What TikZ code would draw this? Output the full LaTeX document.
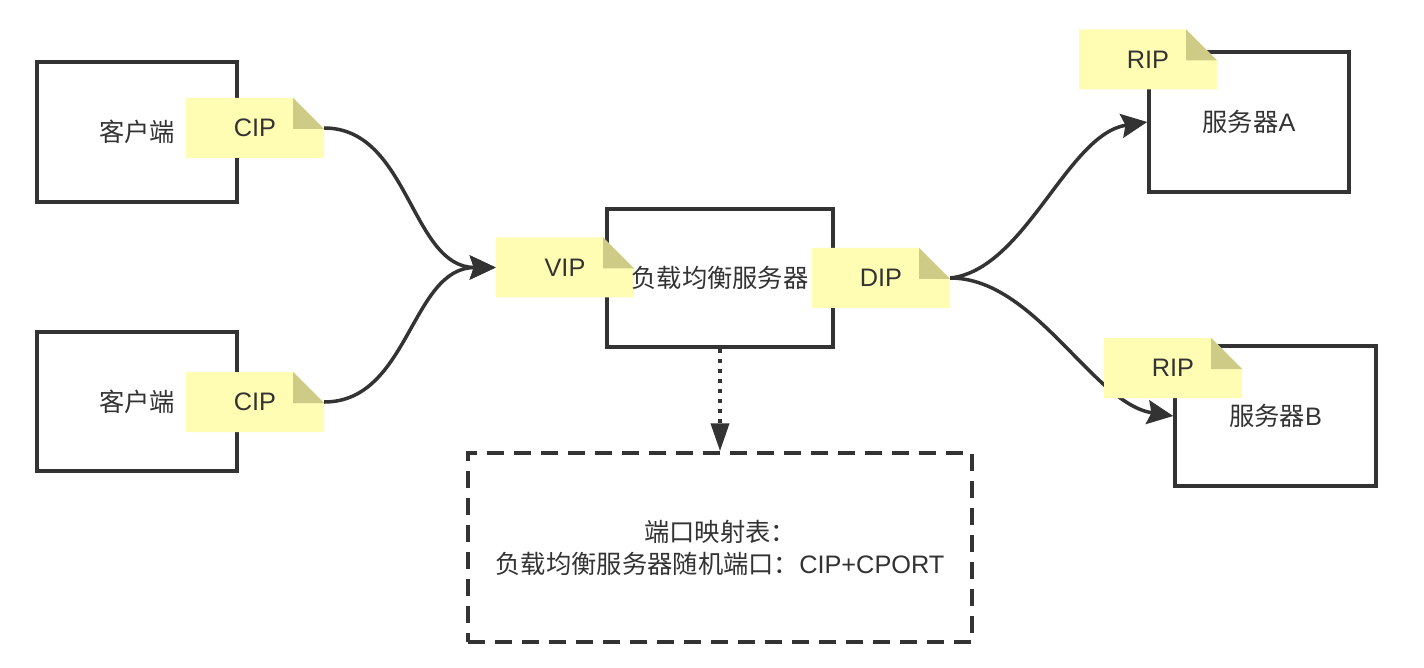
\documentclass[tikz,border=0pt]{standalone}
\usepackage{fontspec}
\setmainfont{Liberation Sans}
\newfontfamily\cjk{Noto Sans CJK SC}
\usetikzlibrary{arrows.meta,calc}
\definecolor{ink}{HTML}{333333}
\definecolor{noteY}{HTML}{FFFDB4}
\definecolor{foldY}{HTML}{CDCB86}
\tikzset{
  txt/.style={text=ink, font=\fontsize{25.3}{32}\selectfont, inner sep=0pt},
  box/.style={draw=ink, line width=3.5pt, fill=white, inner sep=0pt},
  note/.style={txt, minimum width=138pt, minimum height=60pt,
    path picture={
      \fill[noteY] (path picture bounding box.south west) -- (path picture bounding box.north west)
        -- ([xshift=-31pt]path picture bounding box.north east)
        -- ([yshift=-31pt]path picture bounding box.north east)
        -- (path picture bounding box.south east) -- cycle;
      \fill[foldY] ([xshift=-31pt]path picture bounding box.north east)
        -- ([xshift=-31pt,yshift=-31pt]path picture bounding box.north east)
        -- ([yshift=-31pt]path picture bounding box.north east) -- cycle;
    }},
  conn/.style={draw=ink, line width=3.5pt, -{Stealth[length=26pt,width=24pt,inset=4pt]}},
  dotarrow/.style={draw=ink, line width=4pt, dash pattern=on 4pt off 6pt, -{Triangle[length=28pt,width=18pt]}},
  dashbox/.style={draw=ink, line width=3.5pt, dash pattern=on 17pt off 10pt, inner sep=0pt}
}
\begin{document}
\begin{tikzpicture}[x=1pt,y=-1pt]
\useasboundingbox[fill=white] (0,0) rectangle (1424,668);
% boxes
\node[box, txt, minimum width=200pt, minimum height=140pt] (c1) at (137,132) {\cjk 客户端};
\node[box, txt, minimum width=200pt, minimum height=139pt] (c2) at (137,401.5) {\cjk 客户端};
\node[box, minimum width=226pt, minimum height=138pt] (lb) at (720,278) {};
\node[box, txt, minimum width=200pt, minimum height=140pt] (sa) at (1249,122) {{\cjk 服务器}A};
\node[box, txt, minimum width=201pt, minimum height=140pt] (sb) at (1275.5,416) {{\cjk 服务器}B};
\node[dashbox, txt, align=center, minimum width=504pt, minimum height=189pt] (tbl) at (720,547.5)
  {{\cjk 端口映射表：}\\{\cjk 负载均衡服务器随机端口：}CIP+CPORT};
% note anchors
\path (255,128) coordinate (p1) (255,402) coordinate (p2) (565,267.5) coordinate (p3)
  (881,278) coordinate (p4) (1148,59.5) coordinate (p5) (1173,368) coordinate (p6);
\node[note] (cip1) at (p1) {CIP};
\node[note] (cip2) at (p2) {CIP};
\node[note] (vip) at (p3) {VIP};
\node[note] (dip) at (p4) {DIP};
% connectors
\draw[conn] (cip1.east) .. controls +(85,0) and +(-85,0) .. (vip.west);
\draw[conn] (cip2.east) .. controls +(85,0) and +(-85,0) .. (vip.west);
\draw[conn] (dip.east) .. controls +(75,-8) and +(-80,12) .. (sa.west);
\draw[conn] (dip.east) .. controls +(85,0) and +(-80,-12) .. (sb.west);
\draw[dotarrow] (lb.south) -- (tbl.north);
\node[note] (ripa) at (p5) {RIP};
\node[note] (ripb) at (p6) {RIP};
\node[txt] (lbt) at (lb.center) {\cjk 负载均衡服务器};
\end{tikzpicture}
\end{document}
